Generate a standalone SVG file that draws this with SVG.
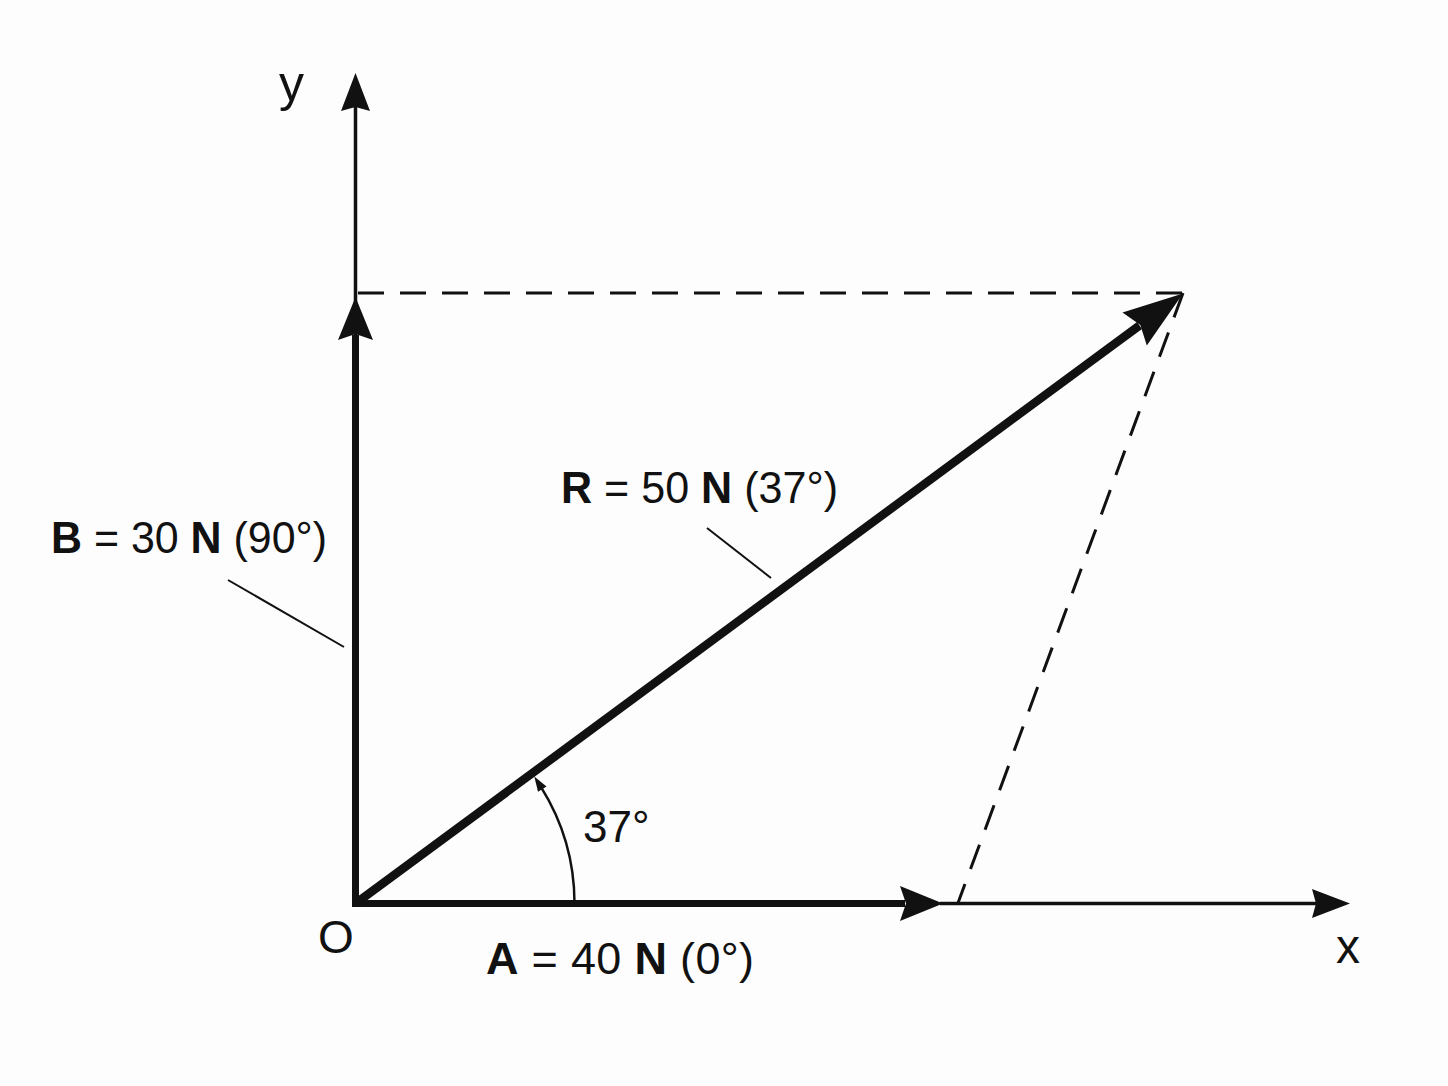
<svg xmlns="http://www.w3.org/2000/svg" width="1448" height="1086" viewBox="0 0 1448 1086">
  <style>
    .lbl { font-family: "Liberation Sans", Arial, sans-serif; fill: #111; }
    .b { font-weight: bold; }
    .thin { stroke: #111; stroke-width: 3.5; fill: none; }
    .thick { stroke: #111; stroke-width: 7; fill: none; }
    .res { stroke: #111; stroke-width: 8.5; fill: none; }
    .dash { stroke: #111; stroke-width: 3; fill: none; stroke-dasharray: 26 16; }
    .leader { stroke: #111; stroke-width: 2; fill: none; }
    .arc { stroke: #111; stroke-width: 2.5; fill: none; }
  </style>
  <defs>
    <marker id="hAxis" markerUnits="userSpaceOnUse" orient="auto" overflow="visible" markerWidth="1" markerHeight="1" refX="0" refY="0">
      <path d="M-4,-14.5 L34,0 L-4,14.5 L0,0 Z" fill="#111"/>
    </marker>
    <marker id="hVec" markerUnits="userSpaceOnUse" orient="auto" overflow="visible" markerWidth="1" markerHeight="1" refX="0" refY="0">
      <path d="M-5,-17.5 L38,0 L-5,17.5 L1,0 Z" fill="#111"/>
    </marker>
    <marker id="hRes" markerUnits="userSpaceOnUse" orient="auto" overflow="visible" markerWidth="1" markerHeight="1" refX="0" refY="0">
      <path d="M-6,-20.5 L54,0 L-6,20.5 L1,0 Z" fill="#111"/>
    </marker>
    <marker id="hArc" markerUnits="userSpaceOnUse" orient="auto" overflow="visible" markerWidth="1" markerHeight="1" refX="0" refY="0">
      <path d="M-2,-5 L13,0 L-2,5 Z" fill="#111"/>
    </marker>
  </defs>
  <rect x="0" y="0" width="1448" height="1086" fill="#fdfdfd"/>

  <g id="connectors">
    <line id="y-axis" class="thin" x1="355.5" y1="903.5" x2="355.5" y2="107" marker-end="url(#hAxis)"/>
    <line id="x-axis" class="thin" x1="940" y1="903.5" x2="1316" y2="903.5" marker-end="url(#hAxis)"/>
    <line id="dash-top" class="dash" x1="358" y1="293" x2="1183" y2="293"/>
    <line id="dash-side" class="dash" x1="1183" y1="293" x2="958" y2="903"/>
    <line id="vec-B" class="thick" x1="355.5" y1="907" x2="355.5" y2="335" marker-end="url(#hVec)"/>
    <line id="vec-A" class="thick" x1="352" y1="903.5" x2="905" y2="903.5" marker-end="url(#hVec)"/>
    <line id="vec-R" class="res" x1="355.5" y1="903.5" x2="1139.5" y2="325.5" marker-end="url(#hRes)"/>
    <path id="angle-arc" class="arc" d="M574.5,903 A219,219 0 0 0 541.2,787.4" marker-end="url(#hArc)"/>
    <line id="leader-B" class="leader" x1="228" y1="580" x2="344" y2="647"/>
    <line id="leader-R" class="leader" x1="707" y1="528" x2="771" y2="578"/>
  </g>

  <g id="label-y"><text class="lbl" x="279" y="101" font-size="50">y</text></g>
  <g id="label-x"><text class="lbl" x="1336" y="963" font-size="48">x</text></g>
  <g id="label-O"><text class="lbl" x="318" y="953" font-size="46">O</text></g>

  <g id="label-B">
    <text class="lbl" x="51" y="553" font-size="45" textLength="276" lengthAdjust="spacingAndGlyphs"><tspan class="b">B</tspan> = 30 <tspan class="b">N</tspan> (90°)</text>
  </g>
  <g id="label-R">
    <text class="lbl" x="561" y="503" font-size="45" textLength="277" lengthAdjust="spacingAndGlyphs"><tspan class="b">R</tspan> = 50 <tspan class="b">N</tspan> (37°)</text>
  </g>
  <g id="label-A">
    <text class="lbl" x="486" y="974" font-size="45" textLength="268" lengthAdjust="spacing"><tspan class="b">A</tspan> = 40 <tspan class="b">N</tspan> (0°)</text>
  </g>
  <g id="label-angle">
    <text class="lbl" x="583" y="842" font-size="44">37°</text>
  </g>
</svg>
